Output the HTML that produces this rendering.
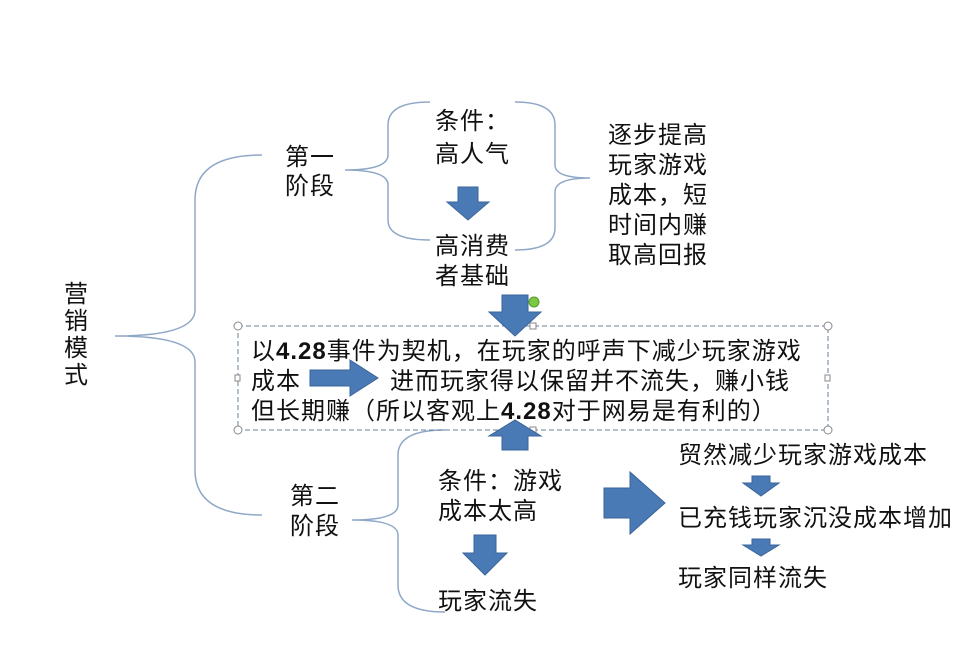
<!DOCTYPE html>
<html><head><meta charset="utf-8"><style>
body{margin:0;background:#fff;}
svg{display:block;}
text{font-family:"Liberation Sans","Noto Sans CJK SC",sans-serif;font-size:24px;letter-spacing:1px;fill:#111;}
</style></head><body>
<svg width="960" height="652" viewBox="0 0 960 652">
<g fill="none" stroke="#8fa8c8" stroke-width="1.5">
<path d="M262,155 Q195,155 195,200 L195,310 Q195,336 115,336 Q195,336 195,362 L195,470 Q195,515 262,515"/>
<path d="M430,102 Q388,102 388,125 L388,155 Q388,170 345,170 Q388,170 388,185 L388,220 Q388,240 430,240"/>
<path d="M515,102 Q555,102 555,125 L555,165 Q555,178 590,178 Q555,178 555,192 L555,228 Q555,250 515,250"/>
<path d="M445,430 Q398,430 398,455 L398,505 Q398,520 352,520 Q398,520 398,535 L398,585 Q398,612 445,612"/>
</g>
<rect x="238" y="326" width="590" height="104" fill="none" stroke="#6a7f99" stroke-width="1" stroke-dasharray="5,3"/>
<g fill="#fff" stroke="#888" stroke-width="1">
<circle cx="238" cy="326" r="4"/><circle cx="828" cy="326" r="4"/><circle cx="238" cy="430" r="4"/><circle cx="828" cy="430" r="4"/>
<rect x="235" y="375" width="5" height="6"/><rect x="825" y="375" width="5" height="6"/>
<rect x="530" y="323" width="6" height="6"/><rect x="530" y="427" width="6" height="6"/>
</g>
<g fill="#4a7ab5" stroke="#3a6499" stroke-width="1">
<polygon points="458,187 478,187 478,202 489,202 468,220 447,202 458,202"/>
<polygon points="502,295 528,295 528,312 541,312 515,336 489,312 502,312"/>
<polygon points="502,450 528,450 528,436 541,436 515,420 489,436 502,436"/>
<polygon points="310,370 350,370 350,360 378,378 350,396 350,386 310,386"/>
<polygon points="474,535 496,535 496,553 507,553 485,575 463,553 474,553"/>
<polygon points="604,488 630,488 630,472 665,503 630,534 630,518 604,518"/>
<polygon points="752,476 770,476 770,483 779,483 761,496 743,483 752,483"/>
<polygon points="752,539 770,539 770,545 779,545 761,556 743,545 752,545"/>
</g>
<circle cx="534" cy="302" r="5" fill="#7ac943" stroke="#5a9a30"/>
<text x="64" y="302">营</text><text x="64" y="329">销</text><text x="64" y="356">模</text><text x="64" y="383">式</text>
<text x="285" y="165">第一</text><text x="285" y="194">阶段</text>
<text x="435" y="129">条件：</text><text x="435" y="162">高人气</text>
<text x="435" y="254">高消费</text><text x="435" y="284">者基础</text>
<text x="608" y="143">逐步提高</text><text x="608" y="173">玩家游戏</text><text x="608" y="203">成本，短</text><text x="608" y="233">时间内赚</text><text x="608" y="263">取高回报</text>
<text x="251" y="359">以<tspan font-weight="bold">4.28</tspan>事件为契机，在玩家的呼声下减少玩家游戏</text>
<text x="251" y="389">成本</text><text x="390" y="389">进而玩家得以保留并不流失，赚小钱</text>
<text x="251" y="419">但长期赚（所以客观上<tspan font-weight="bold">4.28</tspan>对于网易是有利的）</text>
<text x="290" y="504">第二</text><text x="290" y="534">阶段</text>
<text x="438" y="489">条件：游戏</text><text x="438" y="519">成本太高</text>
<text x="438" y="609">玩家流失</text>
<text x="678" y="463">贸然减少玩家游戏成本</text>
<text x="678" y="526">已充钱玩家沉没成本增加</text>
<text x="678" y="586">玩家同样流失</text>
</svg>
</body></html>
